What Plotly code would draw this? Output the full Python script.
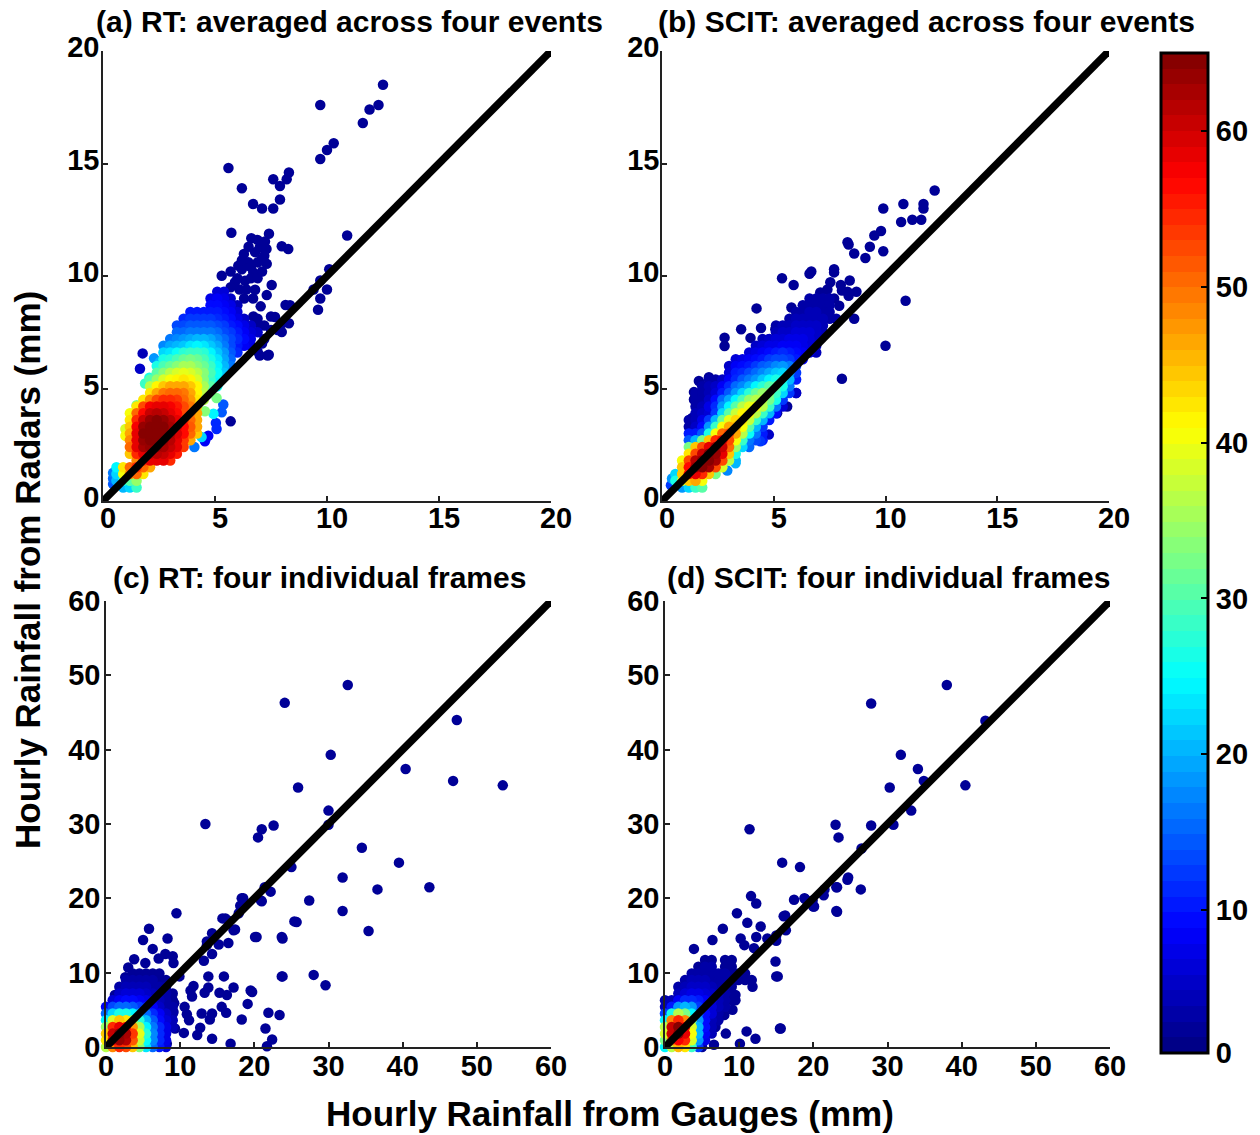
import plotly.graph_objects as go

W, H = 1260, 1135

# ---------- values ----------
# *_BLOB: gauge-rainfall row {radar value: {gauge value: point density}}
A_BLOB = {
 9.3:{5.1:6,5.4:6},
 9.0:{4.8:7,5.1:8,5.4:7,5.7:5},
 8.7:{4.8:9,5.1:9,5.4:8,5.7:7,6.0:4},
 8.4:{3.9:10,4.2:10,4.5:10,4.8:10,5.1:10,5.4:9,5.7:8,6.0:6},
 8.1:{3.6:11,3.9:12,4.2:12,4.5:12,4.8:12,5.1:11,5.4:10,5.7:9,6.0:7,6.3:5},
 7.8:{3.3:13,3.6:13,3.9:14,4.2:14,4.5:14,4.8:14,5.1:13,5.4:12,5.7:10,6.0:9,6.3:7,6.6:5},
 7.5:{3.3:15,3.6:15,3.9:16,4.2:16,4.5:16,4.8:16,5.1:15,5.4:13,5.7:12,6.0:10,6.3:8,6.6:6,6.9:5},
 7.2:{3.0:16,3.3:17,3.6:18,3.9:19,4.2:20,4.5:20,4.8:19,5.1:17,5.4:15,5.7:13,6.0:11,6.3:9,6.6:7},
 6.9:{2.7:17,3.0:19,3.3:20,3.6:21,3.9:23,4.2:24,4.5:23,4.8:21,5.1:19,5.4:16,5.7:13,6.0:10,6.3:8,6.6:7},
 6.6:{2.7:22,3.0:23,3.3:25,3.6:27,3.9:28,4.2:28,4.5:27,4.8:24,5.1:21,5.4:18,5.7:14,6.0:11},
 6.3:{2.7:26,3.0:27,3.3:29,3.6:31,3.9:32,4.2:31,4.5:29,4.8:26,5.1:23,5.4:19,5.7:15},
 6.0:{2.4:26,2.7:29,3.0:31,3.3:33,3.6:35,3.9:35,4.2:33,4.5:31,4.8:28,5.1:24,5.4:20,5.7:16},
 5.7:{2.4:30,2.7:33,3.0:36,3.3:38,3.6:39,3.9:38,4.2:36,4.5:33,4.8:29,5.1:25,5.4:21},
 5.4:{2.1:30,2.4:34,2.7:38,3.0:40,3.3:41,3.6:42,3.9:41,4.2:38,4.5:33,4.8:28,5.1:24},
 5.1:{2.1:36,2.4:41,2.7:44,3.0:46,3.3:46,3.6:46,3.9:44,4.2:41,4.5:35,4.8:30,5.1:25},
 4.8:{2.1:42,2.4:46,2.7:49,3.0:50,3.3:50,3.6:49,3.9:46,4.2:41,4.5:36},
 4.5:{1.8:42,2.1:48,2.4:52,2.7:54,3.0:54,3.3:53,3.6:50,3.9:47,4.2:42,4.5:36},
 4.2:{1.5:42,1.8:52,2.1:57,2.4:58,2.7:58,3.0:57,3.3:55,3.6:52,3.9:49,4.2:44},
 3.9:{1.2:40,1.5:50,1.8:56,2.1:60,2.4:61,2.7:60,3.0:58,3.3:56,3.6:52,3.9:49,4.2:46},
 3.6:{1.2:42,1.5:54,1.8:60,2.1:63,2.4:64,2.7:63,3.0:61,3.3:58,3.6:54,3.9:50,4.2:46},
 3.3:{1.2:44,1.5:57,1.8:63,2.1:65,2.4:65,2.7:64,3.0:62,3.3:59,3.6:56,3.9:51,4.2:46},
 3.0:{1.2:46,1.5:58,1.8:64,2.1:65,2.4:65,2.7:64,3.0:62,3.3:59,3.6:56,3.9:50,4.2:44},
 2.7:{1.2:48,1.5:58,1.8:63,2.1:64,2.4:64,2.7:63,3.0:61,3.3:58,3.6:53,3.9:46},
 2.4:{1.2:50,1.5:58,1.8:62,2.1:63,2.4:63,2.7:62,3.0:60,3.3:58,3.6:53},
 2.1:{1.2:44,1.5:54,1.8:58,2.1:60,2.4:61,2.7:60,3.0:58,3.3:55},
 1.8:{1.5:48,1.8:54,2.1:58,2.4:58,2.7:58,3.0:54},
 1.5:{0.6:24,0.9:42,1.2:50,1.5:54,1.8:50,2.1:46},
 1.2:{0.6:22,0.9:40,1.2:48,1.5:50,1.8:42},
 0.9:{0.6:20,0.9:26,1.2:30,1.5:34},
 0.6:{0.9:20,1.2:22,1.5:28},
}
A_COLORED = [(0.45,1.0,15),(0.45,0.75,14),(0.45,1.25,16),(4.93,3.88,24),(4.55,3.99,33),(5.07,4.58,32),
 (4.4,2.84,22),(4.08,2.4,16),(5.3,3.94,14),(5.37,4.29,14),(5.04,3.47,11),(5.07,3.2,11),(4.7,2.9,8),(4.55,2.65,8),
 (2.07,5.48,26),(1.88,5.22,28),(1.5,4.26,32),(1.28,3.88,34),(2.28,6.34,18),(2.54,6.18,20),(1.77,6.56,4),(1.65,5.88,5),
 (1.0,3.2,38),(1.0,2.9,40)]
A_SPARSE_X = [12.5,12.3,11.9,11.6,9.7,10.3,10.0,9.7,5.6,6.2,8.3,7.6,8.2,7.9,7.9,6.7,7.1,7.6,10.9,5.73,6.62,7.41,7.98,8.27,7.23,7.0,6.29,6.79,7.08,6.04,6.49,6.71,7.31,5.3,5.89,6.34,6.79,7.53,7.31,7.04,7.68,8.15,7.98,6.71,7.0,6.41,9.4,9.7,10.1,10.0,9.7,9.6,8.3,8.0,7.8,8.35,7.5,6.9,7.4,7.1,7.35,7.0,5.7,
 6.2,6.6,6.9,7.2,6.5,6.9,7.3,6.2,6.0,6.6,6.9,5.7,6.1,6.4,6.7,6.3,7.1,5.7,7.2,7.5,7.2,6.9]
A_SPARSE_Y = [18.5,17.6,17.4,16.8,17.6,15.9,15.6,15.2,14.8,13.9,14.6,14.3,14.3,14.0,13.4,13.2,13.0,13.0,11.8,11.92,11.68,11.88,11.32,11.2,11.53,11.28,10.98,11.06,10.76,10.46,10.61,10.16,10.54,10.01,9.72,9.79,9.39,9.6,9.15,8.65,8.18,8.71,7.51,8.2,7.81,7.63,9.4,9.8,10.3,9.4,9.0,8.5,7.9,7.9,7.6,8.7,8.2,6.65,6.5,7.0,6.47,6.47,3.54,
 10.3,10.4,10.6,10.9,11.3,11.6,11.2,10.7,9.9,9.9,9.9,9.5,9.4,9.4,9.0,9.0,10.2,10.2,7.8,7.6,7.2,8.1]

B_BLOB = {
 9.0:{6.6:3,6.9:3,7.2:3,7.5:3},
 8.7:{6.3:3,6.6:3,6.9:3,7.2:3,7.5:3},
 8.4:{6.0:3,6.3:3,6.6:4,6.9:4,7.2:3,7.5:3},
 8.1:{5.7:3,6.0:4,6.3:4,6.6:4,6.9:4,7.2:4,7.5:3,7.8:3},
 7.8:{5.1:3,5.4:4,5.7:4,6.0:5,6.3:5,6.6:5,6.9:5,7.2:4},
 7.5:{5.1:4,5.4:5,5.7:5,6.0:6,6.3:6,6.6:6,6.9:5,7.2:4},
 7.2:{4.5:4,4.8:5,5.1:6,5.4:6,5.7:7,6.0:7,6.3:7,6.6:6,6.9:5},
 6.9:{4.2:5,4.5:6,4.8:7,5.1:7,5.4:8,5.7:8,6.0:8,6.3:7,6.6:6,6.9:5},
 6.6:{3.9:6,4.2:7,4.5:8,4.8:9,5.1:10,5.4:11,5.7:10,6.0:9,6.3:8,6.6:6,6.9:4},
 6.3:{3.3:6,3.6:7,3.9:8,4.2:9,4.5:10,4.8:12,5.1:13,5.4:13,5.7:12,6.0:10,6.3:8},
 6.0:{3.0:5,3.3:8,3.6:9,3.9:10,4.2:12,4.5:14,4.8:15,5.1:17,5.4:18,5.7:16,6.0:12},
 5.7:{3.0:6,3.3:10,3.6:11,3.9:13,4.2:15,4.5:17,4.8:19,5.1:21,5.4:22,5.7:18,6.0:12},
 5.4:{2.1:3,2.4:3,2.7:5,3.0:8,3.3:11,3.6:14,3.9:16,4.2:18,4.5:21,4.8:24,5.1:26,5.4:25,5.7:20,6.0:10},
 5.1:{1.8:3,2.1:4,2.4:5,2.7:8,3.0:11,3.3:15,3.6:17,3.9:20,4.2:24,4.5:27,4.8:30,5.1:30,5.4:26,5.7:16},
 4.8:{1.5:3,1.8:3,2.1:4,2.4:6,2.7:10,3.0:14,3.3:18,3.6:22,3.9:27,4.2:31,4.5:34,4.8:33,5.1:28,5.4:22,5.7:12,6.0:5},
 4.5:{1.5:3,1.8:3,2.1:5,2.4:9,2.7:15,3.0:19,3.3:24,3.6:29,3.9:34,4.2:36,4.5:36,4.8:32,5.1:26,5.4:12},
 4.2:{1.5:3,1.8:4,2.1:7,2.4:11,2.7:18,3.0:24,3.3:30,3.6:36,3.9:39,4.2:40,4.5:36,4.8:28,5.1:16,5.4:6},
 3.9:{1.5:4,1.8:5,2.1:6,2.4:12,2.7:22,3.0:30,3.3:37,3.6:41,3.9:41,4.2:36,4.5:28,4.8:20,5.1:9},
 3.6:{1.2:3,1.5:4,1.8:7,2.1:12,2.4:20,2.7:31,3.0:39,3.3:43,3.6:42,3.9:37,4.2:28,4.5:20,4.8:10},
 3.3:{1.2:3,1.5:5,1.8:9,2.1:18,2.4:28,2.7:40,3.0:46,3.3:45,3.6:40,3.9:30,4.2:20,4.5:12},
 3.0:{1.2:10,1.5:10,1.8:14,2.1:26,2.4:40,2.7:50,3.0:52,3.3:46,3.6:36,3.9:25,4.2:16,4.5:10},
 2.7:{1.2:14,1.5:20,1.8:32,2.1:44,2.4:54,2.7:58,3.0:52,3.3:40,3.6:28,3.9:16,4.2:13,4.5:10},
 2.4:{1.2:32,1.5:44,1.8:52,2.1:58,2.4:62,2.7:60,3.0:50,3.3:34,3.6:22,3.9:15},
 2.1:{1.2:42,1.5:52,1.8:60,2.1:64,2.4:63,2.7:58,3.0:44,3.3:26},
 1.8:{0.9:40,1.2:52,1.5:61,1.8:65,2.1:65,2.4:62,2.7:52,3.0:36,3.3:20},
 1.5:{0.9:44,1.2:56,1.5:63,1.8:65,2.1:62,2.4:52,2.7:38},
 1.2:{0.6:22,0.9:44,1.2:56,1.5:58,1.8:54,2.1:44,2.4:32},
 0.9:{0.6:26,0.9:38,1.2:44,1.5:46,1.8:40},
 0.6:{0.9:18,1.2:22,1.5:28,1.8:30},
}
B_COLORED = [(0.45,1.0,18),(0.4,0.7,12),(2.92,1.35,17),(3.29,1.68,20),(4.4,2.65,12),(4.78,2.95,5)]
B_SPARSE_X = [12.2,11.7,11.7,10.8,9.9,11.6,11.2,10.7,9.8,9.5,9.3,8.3,9.9,8.6,9.1,7.7,6.6,5.37,5.89,6.68,7.7,8.35,4.23,3.54,4.43,2.8,2.8,3.96,2.1,1.65,1.43,1.43,1.58,1.35,8.05,7.53,8.05,8.35,7.08,7.38,7.93,6.64,5.79,5.07,4.78,6.0,5.6,5.15,10.9,10.0,8.4,8.0,7.4,8.3,8.7,7.7,8.6]
B_SPARSE_Y = [13.8,13.2,13.0,13.2,13.0,12.5,12.5,12.4,12.0,11.8,11.3,11.5,11.1,11.0,10.8,10.3,10.1,9.9,9.6,10.2,10.16,11.4,8.56,7.63,7.69,7.26,6.89,7.25,5.5,5.33,4.84,4.51,4.29,3.69,5.43,9.72,9.35,9.12,9.27,8.97,8.68,8.9,8.6,7.63,7.19,4.8,4.2,3.9,8.9,6.9,9.8,9.6,9.4,9.3,9.3,9.0,8.1]

C_BLOB = {
 0.0:{0.0:36,0.9:48,1.8:54,2.7:52,3.6:44,4.5:33,5.4:23,6.3:15,7.2:10,8.1:6},
 0.9:{0.0:42,0.9:58,1.8:63,2.7:61,3.6:51,4.5:37,5.4:25,6.3:17,7.2:11,8.1:7},
 1.8:{0.0:44,0.9:60,1.8:65,2.7:62,3.6:53,4.5:39,5.4:27,6.3:17,7.2:11,8.1:7},
 2.7:{0.0:34,0.9:54,1.8:58,2.7:56,3.6:47,4.5:35,5.4:24,6.3:16,7.2:11,8.1:7,9.0:4},
 3.6:{0.0:24,0.9:38,1.8:44,2.7:42,3.6:35,4.5:27,5.4:20,6.3:14,7.2:9,8.1:6,9.0:4},
 4.5:{0.0:15,0.9:22,1.8:26,2.7:26,3.6:24,4.5:19,5.4:15,6.3:11,7.2:8,8.1:5,9.0:3},
 5.4:{0.0:8,0.9:13,1.8:15,2.7:15,3.6:14,4.5:12,5.4:10,6.3:8,7.2:5,8.1:3,9.0:3},
 6.3:{0.9:6,1.8:8,2.7:9,3.6:9,4.5:8,5.4:7,6.3:6,7.2:4,8.1:3,9.0:2},
 7.2:{1.8:5,2.7:6,3.6:6,4.5:6,5.4:5,6.3:4,7.2:3,8.1:3,9.0:2},
 8.1:{1.8:3,2.7:4,3.6:4,4.5:4,5.4:4,6.3:3,7.2:3,8.1:3},
 9.0:{2.7:3,3.6:3,4.5:3,5.4:3,6.3:3,7.2:2,8.1:2},
 9.9:{3.6:2,4.5:2,5.4:2,6.3:2,7.2:2},
}
C_SPARSE_X = [3.8,3.0,5.3,5.8,5.0,6.3,8.3,9.5,7.1,8,9,9.1,9.9,1.2,2.6,11.8,11.4,11.6,13.8,15.9,13.8,13.3,15.3,16.3,17.2,19.7,19.1,15.6,16.2,10.6,10.9,11.2,12.9,14.3,14,18.3,23.4,23.7,23.7,20.3,16.5,15.2,14.3,13.2,13.6,17.4,16.1,17.9,21,22.2,18.3,25.4,9.2,9.1,9.3,10.5,12.3,12.7,14.3,16.8,21.5,22.4,21.7,7.1,8.2,24.1,32.6,47.3,46.8,53.5,40.4,30.3,25.9,30,30,13.4,22.6,21,20.5,34.5,39.5,25,31.9,36.6,43.6,27.4,25.7,31.9,35.4,23.8,20.1,28,29.6,23.8,18.1,18.5,21.4,20.9,16.5,17.2,14.3,13.6,15.7,21.9,19.5]
C_SPARSE_Y = [11.8,10.7,11.3,15.9,14.4,13.2,14.6,18,11.9,12.5,12.2,11.3,9.5,7,9.4,8.2,7.6,6.8,9.5,9.5,8,7.3,7.3,7,8,7.4,5.8,5.4,4.6,5.4,4.4,3.6,4.5,4.5,3.7,3.7,4.3,9.5,14.8,14.8,14,13.8,12.5,11.6,14.2,15.8,17.3,18,19.6,20.9,20,16.9,5.9,4.7,2.5,1.9,1.6,2.6,1.1,0.45,2.5,1,0.1,-0.2,0.45,46.3,48.7,44,35.8,35.2,37.4,39.3,34.9,31.8,29.9,30,29.8,29.3,28.2,26.8,24.8,24.2,22.8,21.2,21.5,19.7,16.8,18.3,15.6,14.6,14.8,9.7,8.3,9.5,19,20,21.5,19.7,17,15.7,15.3,13.7,17.3,4.6,7.6]

D_BLOB = {
 0.0:{0.0:24,0.9:36,1.8:45,2.7:42,3.6:28,4.5:12},
 0.9:{0.0:32,0.9:50,1.8:57,2.7:54,3.6:38,4.5:18,5.4:7},
 1.8:{0.0:38,0.9:60,1.8:65,2.7:58,3.6:40,4.5:20,5.4:8,6.3:4},
 2.7:{0.0:36,0.9:60,1.8:64,2.7:56,3.6:38,4.5:20,5.4:9,6.3:4},
 3.6:{0.0:24,0.9:48,1.8:54,2.7:48,3.6:32,4.5:18,5.4:9,6.3:4,7.2:3},
 4.5:{0.0:12,0.9:26,1.8:36,2.7:32,3.6:24,4.5:14,5.4:9,6.3:6,7.2:3},
 5.4:{0.0:4,0.9:10,1.8:18,2.7:20,3.6:18,4.5:12,5.4:8,6.3:6,7.2:4,8.1:3},
 6.3:{0.0:3,0.9:4,1.8:8,2.7:11,3.6:11,4.5:10,5.4:8,6.3:6,7.2:4,8.1:3,9.0:2},
 7.2:{1.8:4,2.7:6,3.6:7,4.5:7,5.4:6,6.3:5,7.2:4,8.1:3,9.0:2},
 8.1:{1.8:3,2.7:4,3.6:5,4.5:5,5.4:5,6.3:4,7.2:3,8.1:3,9.0:2},
 9.0:{2.7:3,3.6:4,4.5:4,5.4:4,6.3:3,7.2:3,8.1:3,9.0:2,9.9:2,10.8:2,11.7:2},
 9.9:{3.6:3,4.5:3,5.4:3,6.3:3,7.2:3,8.1:3,9.0:2,9.9:2,10.8:2},
 10.8:{4.5:2,5.4:3,6.3:3,8.1:2,9.0:2},
 11.7:{5.4:2,6.3:2,8.1:2,9.0:2},
}
D_SPARSE_X = [11.8,9.5,9.5,7.5,9.1,8,6.8,8.2,5.7,5,6.6,10.1,11,12.2,15.6,15.2,14.9,3.9,6.4,7.8,11.1,9.7,11.6,12.3,12.9,10.2,10.7,12.3,12,13.8,15,16.3,16,17.4,18.8,20.1,23.2,23.2,24.6,21.5,27.8,38,43.2,31.8,34.1,34.9,40.5,30.3,33.2,30.8,27.8,23,23.4,11.4,26.5,15.8,18.2,24.7,26.4,23.1,21.4,19.9,18.9,23.1,20,16.2,15,15.5,15]
D_SPARSE_Y = [8.1,7,6.3,6.8,5,4.3,2.7,1.8,1.9,0,0.3,0.45,2.1,1.1,2.5,9.5,11.5,13.2,14.4,15.9,16.7,18,20.3,19.3,16.2,14.6,13.7,14.8,13.3,14.6,14.3,15.7,17.6,19.8,20,18.9,18.2,21.5,22.5,21.2,46.2,48.7,43.9,39.3,37.4,35.8,35.2,34.9,31.8,29.9,29.8,29.9,28.2,29.3,26.7,24.8,24.2,22.8,21.2,21.5,20.4,19.7,19.9,18.3,18.9,17.7,15,2.5,9.5]

SPARSE_DENSITY = 2
SMALL_TICKS = [0, 5, 10, 15, 20]
LARGE_TICKS = [0, 10, 20, 30, 40, 50, 60]
BAR_TICK_VALUES = [0.83, 10, 20, 30, 40, 50, 60]
BAR_TICK_TEXT = ["0", "10", "20", "30", "40", "50", "60"]
DENSITY_MIN, DENSITY_MAX = 0.83, 65
TITLES = ["(a) RT: averaged across four events", "(b) SCIT: averaged across four events",
          "(c) RT: four individual frames", "(d) SCIT: four individual frames"]
Y_LABEL = "Hourly Rainfall from Radars (mm)"
X_LABEL = "Hourly Rainfall from Gauges (mm)"

# ---------- styling ----------
FONT = "Liberation Sans"
BOXES = [(103, 551, 51, 501), (662, 1109, 51, 501), (106, 551, 601, 1047), (665, 1110, 601, 1047)]
TITLE_POS = [(349, 22), (926, 22), (319, 577), (888, 577)]
X_STANDOFF = [-10, -10, -8, -8]
Y_STANDOFF = [-4, -5, -2, -2]
X_SHIFT = [5, 5, 0, 0]
Y_SHIFT = [-4, -4, 0, 0]
MARKER_SIZE = 10.5
BAR = (1161, 1208, 53, 1053)


def jet64():
    n = 64
    stops = []
    for i in range(n):
        t = (i + 0.5) / n
        r = max(0, min(1, 1.5 - abs(4 * t - 3)))
        g = max(0, min(1, 1.5 - abs(4 * t - 2)))
        b = max(0, min(1, 1.5 - abs(4 * t - 1)))
        col = f"rgb({round(r*255)},{round(g*255)},{round(b*255)})"
        stops.append([i / n, col])
        stops.append([(i + 1) / n, col])
    return stops


def collect(blob, sx, sy, extra=()):
    pts = [(x, y, SPARSE_DENSITY) for x, y in zip(sx, sy)]
    pts += list(extra)
    for y, row in blob.items():
        pts += [(x, y, d) for x, d in row.items()]
    pts.sort(key=lambda p: p[2])
    return [p[0] for p in pts], [p[1] for p in pts], [p[2] for p in pts]


PANELS = [
    collect(A_BLOB, A_SPARSE_X, A_SPARSE_Y, A_COLORED),
    collect(B_BLOB, B_SPARSE_X, B_SPARSE_Y, B_COLORED),
    collect(C_BLOB, C_SPARSE_X, C_SPARSE_Y),
    collect(D_BLOB, D_SPARSE_X, D_SPARSE_Y),
]
LIMITS = [20, 20, 60, 60]
TICKS = [SMALL_TICKS, SMALL_TICKS, LARGE_TICKS, LARGE_TICKS]

fig = go.Figure()
layout = dict(width=W, height=H, margin=dict(l=0, r=0, t=0, b=0, autoexpand=False),
              paper_bgcolor="white", plot_bgcolor="white", showlegend=False,
              font=dict(family=FONT, color="black"))
tickfont = dict(family=FONT, size=29, weight="bold", color="black")
for i, (xs, ys, ds) in enumerate(PANELS):
    s = "" if i == 0 else str(i + 1)
    fig.add_trace(go.Scatter(x=xs, y=ys, mode="markers", xaxis="x" + s, yaxis="y" + s, cliponaxis=False,
                             marker=dict(size=MARKER_SIZE, color=ds, coloraxis="coloraxis", line=dict(width=0))))
    lim = LIMITS[i]
    fig.add_trace(go.Scatter(x=[0, lim], y=[0, lim], mode="lines", xaxis="x" + s, yaxis="y" + s, cliponaxis=False,
                             line=dict(color="black", width=7.5)))
    x0, x1, y0, y1 = BOXES[i]
    common = dict(range=[0, lim], tickmode="array", tickvals=TICKS[i], ticks="inside", ticklen=5, tickwidth=1.5,
                  tickcolor="#222", showgrid=False, zeroline=False, showline=True, linecolor="#222", linewidth=1.5,
                  tickfont=tickfont)
    layout["xaxis" + s] = dict(common, domain=[x0 / W, x1 / W], anchor="y" + s,
                               ticklabelstandoff=X_STANDOFF[i], ticklabelshift=X_SHIFT[i])
    layout["yaxis" + s] = dict(common, domain=[1 - y1 / H, 1 - y0 / H], anchor="x" + s,
                               ticklabelstandoff=Y_STANDOFF[i], ticklabelshift=Y_SHIFT[i])

bx0, bx1, by0, by1 = BAR
layout["coloraxis"] = dict(
    cmin=DENSITY_MIN, cmax=DENSITY_MAX, colorscale=jet64(),
    colorbar=dict(x=bx0 / W, xanchor="left", xref="paper", y=1 - by1 / H, yanchor="bottom", yref="paper",
                  thickness=bx1 - bx0, thicknessmode="pixels", len=by1 - by0, lenmode="pixels",
                  outlinewidth=3, outlinecolor="black", tickmode="array", tickvals=BAR_TICK_VALUES,
                  ticktext=BAR_TICK_TEXT,
                  ticks="inside", ticklen=8, tickwidth=2, tickcolor="black", xpad=0, ypad=0,
                  tickfont=dict(family=FONT, size=29, weight="bold", color="black")))

# the left-hand ticks of the colour bar
shapes = []
for v in BAR_TICK_VALUES[1:]:
    yf = (1 - by1 / H) + (v - DENSITY_MIN) / (DENSITY_MAX - DENSITY_MIN) * ((by1 - by0) / H)
    shapes.append(dict(type="line", xref="paper", yref="paper", x0=bx0 / W, x1=(bx0 + 8) / W, y0=yf, y1=yf,
                       line=dict(color="black", width=2)))
layout["shapes"] = shapes

ann = []
for t, (px, py) in zip(TITLES, TITLE_POS):
    ann.append(dict(text=t, x=px / W, y=1 - py / H, xref="paper", yref="paper", showarrow=False,
                    xanchor="center", yanchor="middle",
                    font=dict(family=FONT, size=30, weight="bold", color="black")))
ann.append(dict(text=Y_LABEL, x=27 / W, y=1 - 570 / H, xref="paper", yref="paper", showarrow=False,
                xanchor="center", yanchor="middle",
                textangle=-90, font=dict(family=FONT, size=35, weight="bold", color="black")))
ann.append(dict(text=X_LABEL, x=610 / W, y=1 - 1113 / H, xref="paper", yref="paper", showarrow=False,
                xanchor="center", yanchor="middle",
                font=dict(family=FONT, size=35, weight="bold", color="black")))
layout["annotations"] = ann
fig.update_layout(**layout)
fig.write_html("out.html", post_script="document.body.style.margin='0';", config={"displayModeBar": False})
